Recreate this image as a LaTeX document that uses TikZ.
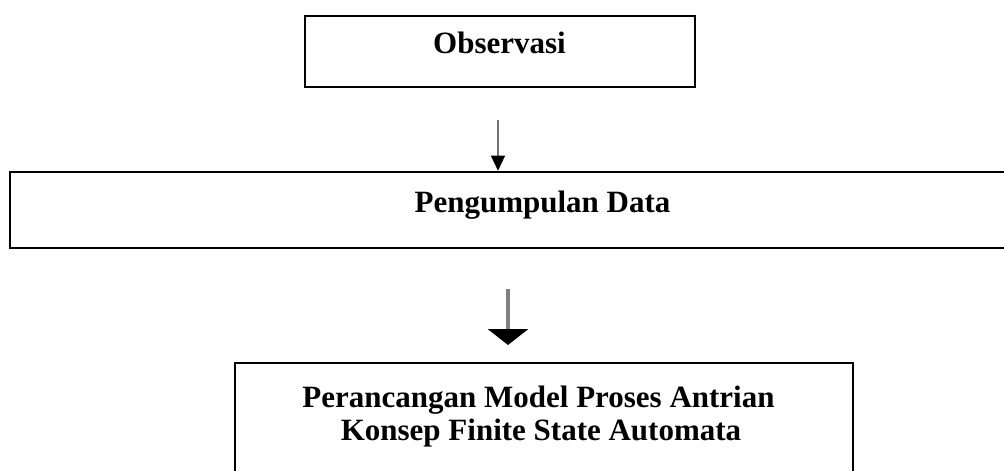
\documentclass[tikz,border=0pt]{standalone}
\usepackage{fontspec}
\setmainfont{Liberation Serif}
\usetikzlibrary{arrows.meta}
\tikzset{
  box/.style={draw=black, line width=2.6pt, rectangle, inner sep=0pt},
  lbl/.style={anchor=base, inner sep=0pt, font=\fontsize{31}{33}\selectfont\bfseries},
  thinarrow/.style={draw=black!55, line width=1.4pt, -{Triangle[width=14pt,length=15pt,color=black]}},
  thickarrow/.style={draw=black!50, line width=3.8pt, -{Triangle[width=40pt,length=16pt,color=black]}}
}
\begin{document}
\begin{tikzpicture}[x=1pt,y=1pt]
\useasboundingbox (0,0) rectangle (1004,-471);
\clip (0,0) rectangle (1004,-471);
\node[box, minimum width=390pt, minimum height=71pt] (obs) at (500,-51.5) {};
\node[lbl] (obst) at (499.5,-53) {Observasi};
\node[box, minimum width=1010pt, minimum height=76pt] (peng) at (515,-210) {};
\node[lbl] (pengt) at (542.5,-212) {Pengumpulan Data};
\node[box, minimum width=618pt, minimum height=130pt] (per) at (544,-428) {};
\node[lbl] (pert1) at (538.5,-407) {Perancangan Model Proses Antrian};
\node[lbl] (pert2) at (541,-440) {Konsep Finite State Automata};
\coordinate (a1s) at (498,-120);
\coordinate (a2s) at (508,-289);
\coordinate (a2e) at (508,-345);
\draw[thinarrow] (a1s) -- (a1s |- peng.north);
\draw[thickarrow] (a2s) -- (a2e);
\end{tikzpicture}
\end{document}
